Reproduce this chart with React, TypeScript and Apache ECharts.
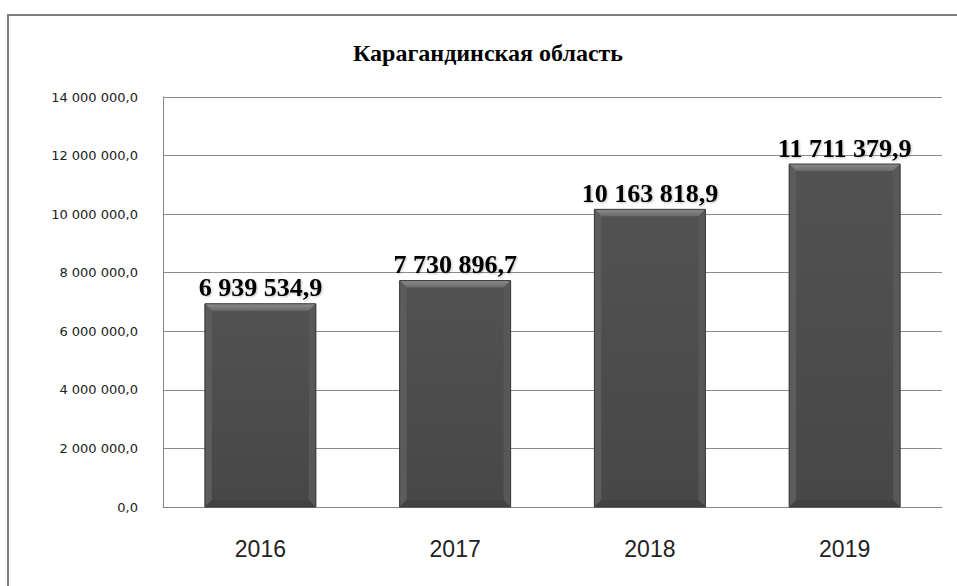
import React, { useEffect, useRef } from "react";
import * as echarts from "echarts";

const TITLE = "Карагандинская область";
const years = ["2016", "2017", "2018", "2019"];
const values = [6939534.9, 7730896.7, 10163818.9, 11711379.9];
const yMin = 0;
const yMax = 14000000;
const yInterval = 2000000;

function fmt(v: number): string {
  const [i, d] = v.toFixed(1).split(".");
  return i.replace(/\B(?=(\d{3})+(?!\d))/g, " ") + "," + d;
}

export default function App() {
  const ref = useRef<HTMLDivElement>(null);
  useEffect(() => {
    document.body.style.margin = "0";
    const chart = echarts.init(ref.current!, undefined, { renderer: "svg" });
    const BW = 0.57;
    chart.setOption({
      animation: false,
      backgroundColor: "#ffffff",
      grid: { left: 163, right: 15, top: 97, bottom: 79, containLabel: false },
      graphic: [
        {
          type: "rect",
          shape: { x: 8, y: 15, width: 1000, height: 1000 },
          style: { fill: "none", stroke: "#808080", lineWidth: 2 },
          silent: true,
          z: -10,
        },
        {
          type: "text",
          x: 488,
          y: 53,
          style: {
            text: TITLE,
            fill: "#000",
            font: "bold 24px 'Liberation Serif', 'Times New Roman', serif",
            textAlign: "center",
            textVerticalAlign: "middle",
          },
        },
      ],
      xAxis: {
        type: "category",
        data: years,
        axisLine: { show: true, lineStyle: { color: "#868686", width: 1 } },
        axisTick: { show: false },
        axisLabel: {
          margin: 30,
          fontSize: 23,
          fontFamily: "'Liberation Sans', Arial, sans-serif",
          color: "#222",
        },
      },
      yAxis: {
        type: "value",
        min: yMin,
        max: yMax,
        interval: yInterval,
        axisLine: { show: true, lineStyle: { color: "#868686", width: 1 } },
        axisTick: { show: false },
        splitLine: { show: true, lineStyle: { color: "#8c8c8c", width: 1 } },
        axisLabel: {
          margin: 25,
          fontSize: 13,
          fontFamily: "'DejaVu Sans', sans-serif",
          color: "#222",
          formatter: (v: number) => fmt(v),
        },
      },
      series: [
        {
          type: "bar",
          data: values,
          barWidth: BW * 100 + "%",
          itemStyle: {
            color: new echarts.graphic.LinearGradient(0, 0, 0, 1, [
              { offset: 0, color: "#525252" },
              { offset: 1, color: "#474747" },
            ]),
            borderColor: "#3a3a3a",
            borderWidth: 1,
          },
          label: {
            show: true,
            position: "top",
            distance: 3,
            formatter: (p: any) => fmt(p.value),
            fontSize: 26,
            fontWeight: "bold",
            fontFamily: "'Liberation Serif', 'Times New Roman', serif",
            color: "#000",
            textShadowColor: "rgba(0,0,0,0.25)",
            textShadowBlur: 2,
            textShadowOffsetX: 1,
            textShadowOffsetY: 1,
          },
          z: 2,
        },
        {
          type: "custom",
          silent: true,
          z: 3,
          data: values.map((v, i) => [i, v]),
          renderItem: (params: any, api: any) => {
            const top = api.coord([api.value(0), api.value(1)]);
            const base = api.coord([api.value(0), 0]);
            const w = api.size([1, 0])[0] * BW;
            const l = top[0] - w / 2;
            const r = top[0] + w / 2;
            const t = top[1];
            const b = base[1];
            const bv = 7;
            return {
              type: "group",
              children: [
                {
                  type: "polygon",
                  shape: { points: [[l, t], [r, t], [r - bv, t + bv], [l + bv, t + bv]] },
                  style: {
                    fill: new echarts.graphic.LinearGradient(0, 0, 0, 1, [
                      { offset: 0, color: "#8c8c8c" },
                      { offset: 1, color: "#6a6a6a" },
                    ]),
                  },
                },
                {
                  type: "polygon",
                  shape: { points: [[l, t], [l + bv, t + bv], [l + bv, b - bv], [l, b]] },
                  style: { fill: "#5c5c5c" },
                },
                {
                  type: "polygon",
                  shape: { points: [[r, t], [r - bv, t + bv], [r - bv, b - bv], [r, b]] },
                  style: { fill: "#585858" },
                },
                {
                  type: "polygon",
                  shape: { points: [[l, b], [l + bv, b - bv], [r - bv, b - bv], [r, b]] },
                  style: { fill: "#424242" },
                },
                {
                  type: "rect",
                  shape: { x: l, y: t, width: w, height: b - t },
                  style: { fill: "none", stroke: "#3a3a3a", lineWidth: 1 },
                },
              ],
            };
          },
        },
      ],
    });
    return () => chart.dispose();
  }, []);
  return <div ref={ref} style={{ width: 957, height: 586 }} />;
}
